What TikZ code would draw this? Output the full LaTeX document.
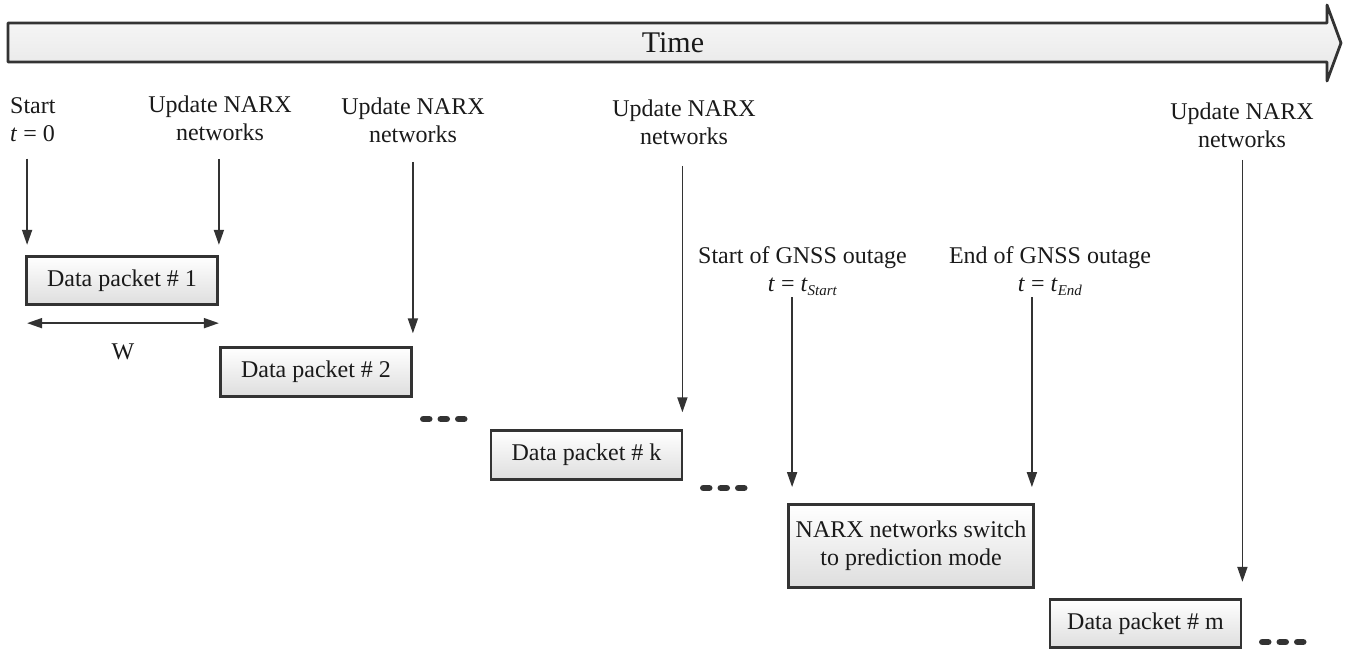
\documentclass[tikz,border=0pt]{standalone}
\usepackage{fontspec}
\setmainfont{Liberation Serif}
\usetikzlibrary{arrows.meta,calc}
\definecolor{ink}{HTML}{1A1A1A}
\definecolor{edge}{HTML}{333333}
% small italic index for t_Start, t_End
\newcommand\lowidx[1]{\raisebox{-4pt}{\fontsize{15}{15}\selectfont\textit{#1}}}
\begin{document}
\begin{tikzpicture}[x=1pt,y=-1pt,
  every node/.style={font=\fontsize{24}{28}\selectfont, text=ink, inner sep=0pt},
  lbl/.style={align=center, anchor=north},
  pkt/.style={draw=edge, line width=2.8pt, top color=white, bottom color=gray!26,
              minimum width=191pt, minimum height=48.5pt},
  arr/.style={draw=edge, line width=1.7pt, -{Triangle[length=15pt,width=10pt]}},
  dotbar/.style={draw=edge, line width=6.5pt, line cap=round, dash pattern=on 6pt off 11.5pt}]
\useasboundingbox (0,0) rectangle (1347,652);

% time axis
\draw[draw=edge, line width=2.8pt, line join=round, top color=gray!4, bottom color=gray!20]
  (8,23) -- (1327,23) -- (1327,5) -- (1341,43) -- (1327,81) -- (1327,62) -- (8,62) -- cycle;
\node[font=\fontsize{30}{36}\selectfont] (time) at (673,43) {Time};

% event labels
\node[align=left, anchor=north west] (lS) at (10,97) {Start\\\textit{t} = 0};
\node[lbl] (u1) at (220,95.5) {Update NARX\\networks};
\node[lbl] (u2) at (413,97.5) {Update NARX\\networks};
\node[lbl] (u3) at (684,99.5) {Update NARX\\networks};
\node[lbl] (u4) at (1242,102.5) {Update NARX\\networks};
\node[lbl] (gs) at (802.5,246) {Start of GNSS outage\\\textit{t} = \textit{t}\lowidx{Start}};
\node[lbl] (ge) at (1050,246) {End of GNSS outage\\\textit{t} = \textit{t}\lowidx{End}};

% data packets
\node[pkt] (b1) at (122,280.5) {Data packet \# 1};
\node[pkt] (b2) at (316,372) {Data packet \# 2};
\node[pkt] (bk) at (586.5,455) {Data packet \# k};
\node[pkt, minimum width=245pt, minimum height=83pt, align=center] (bn) at (911,546)
  {NARX networks switch\\to prediction mode};
\node[pkt] (bm) at (1145.5,623.5) {Data packet \# m};

% event arrows
\draw[arr] ($(lS.south -| b1.north west)+(2,17)$) -- ($(b1.north west)+(2,-10)$);
\draw[arr] ($(u1.south -| b1.north east)+(0,18)$) -- ($(b1.north east)+(0,-10)$);
\draw[arr] ($(u2.south -| b2.north east)+(0,19)$) -- ($(b2.north east)+(0,-13)$);
\draw[arr] ($(u3.south -| bk.north east)+(-1,21)$) -- ($(bk.north east)+(-1,-17)$);
\draw[arr] ($(u4.south -| bm.north east)+(0,12)$) -- ($(bm.north east)+(0,-16)$);
\draw[arr] ($(gs.south -| bn.north west)+(5,2)$) -- ($(bn.north west)+(5,-16)$);
\draw[arr] ($(ge.south -| bn.north east)+(-3,2)$) -- ($(bn.north east)+(-3,-16)$);

% window width
\draw[draw=edge, line width=1.7pt, {Triangle[length=15pt,width=10pt]}-{Triangle[length=15pt,width=10pt]}]
  ($(b1.south west)+(2,17)$) -- ($(b1.south east)+(0,17)$);
\node (w) at (123,352) {W};

% continuation marks
\coordinate (d1) at (420,419);
\coordinate (d2) at (700,488);
\coordinate (d3) at (1259,642);
\draw[dotbar] ($(d1)+(3.25,0)$) -- ++(41,0);
\draw[dotbar] ($(d2)+(3.25,0)$) -- ++(41,0);
\draw[dotbar] ($(d3)+(3.25,0)$) -- ++(41,0);
\end{tikzpicture}
\end{document}
